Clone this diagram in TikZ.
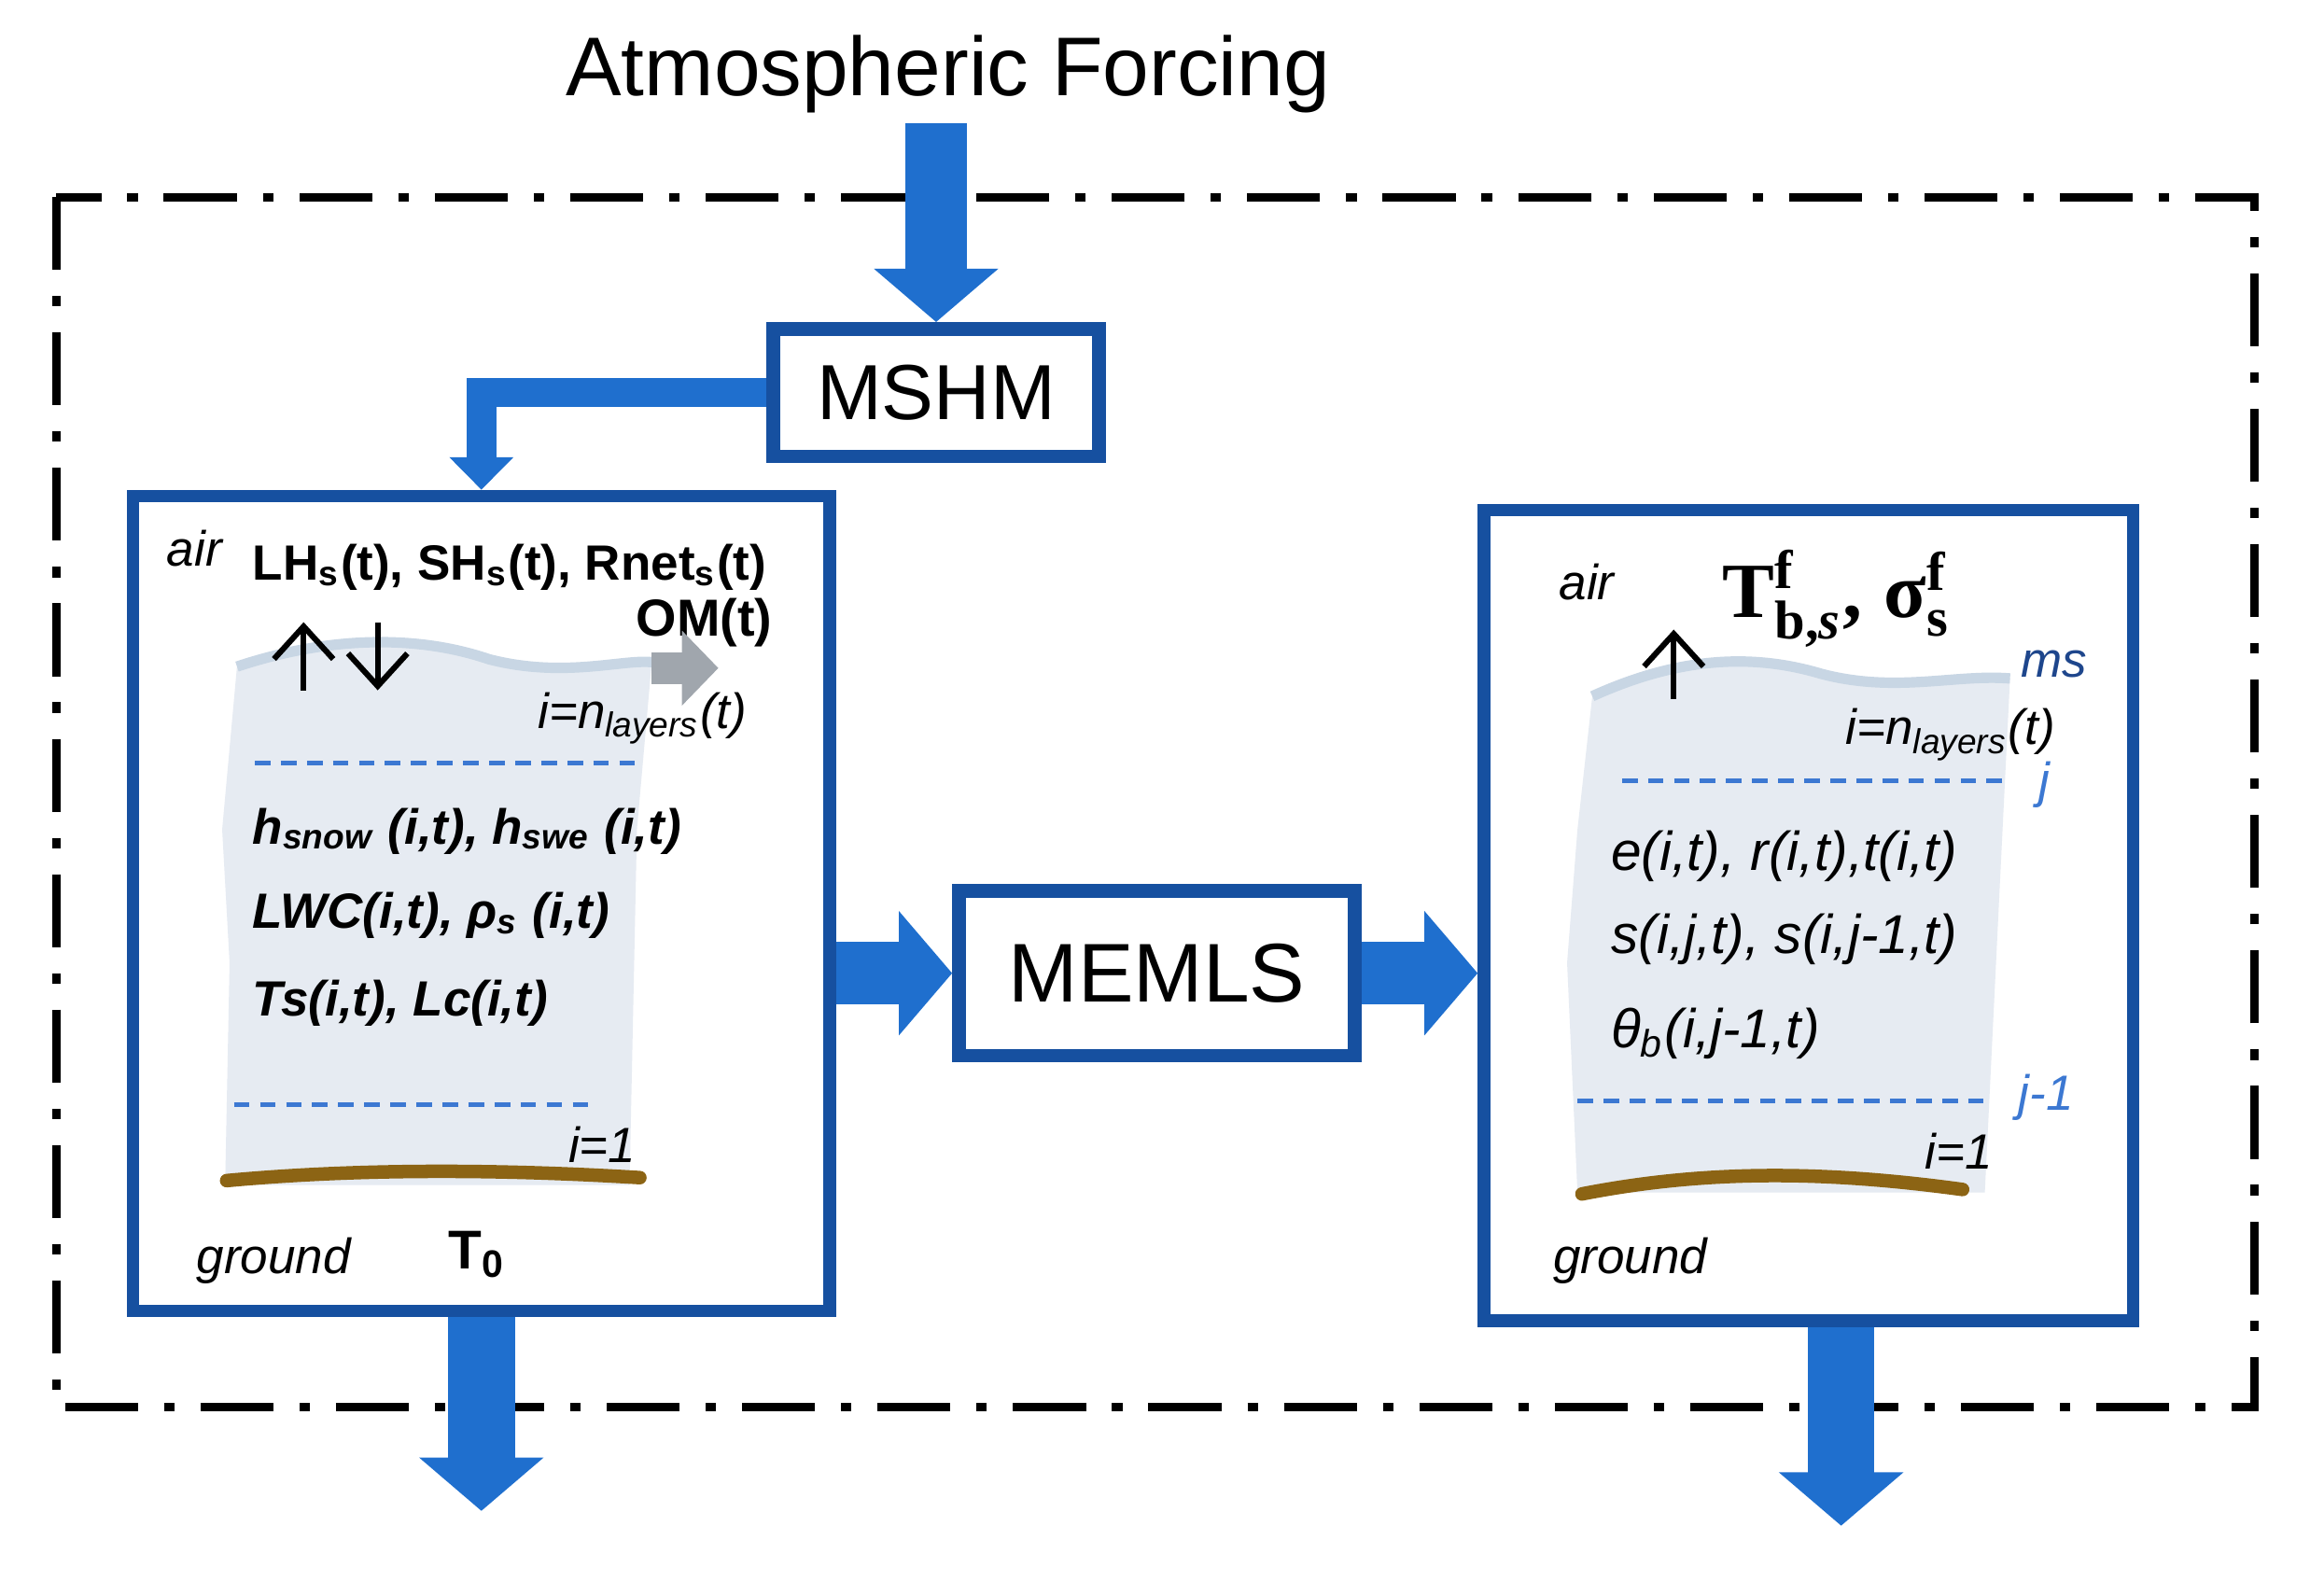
\documentclass[tikz,border=0pt]{standalone}
\usepackage{amsmath}
\usepackage{fontspec}
\setmainfont{Liberation Sans}
\newfontfamily\serifbf{Liberation Serif}
\usetikzlibrary{arrows.meta,positioning}
\definecolor{arrowblue}{RGB}{31,111,206}
\definecolor{boxblue}{RGB}{22,80,160}
\definecolor{snowfill}{RGB}{230,235,242}
\definecolor{snowedge}{RGB}{200,214,228}
\definecolor{groundbrown}{RGB}{140,100,20}
\definecolor{layerblue}{RGB}{60,120,210}
\definecolor{msblue}{RGB}{30,70,140}
\newcommand{\sbf}[1]{\text{\serifbf\bfseries #1}}
\tikzset{
  panel/.style={draw=boxblue, line width=2.4pt, fill=white, inner sep=0pt},
  model/.style={draw=boxblue, line width=2.6pt, fill=white},
  flow/.style={draw=arrowblue, line width=0.42cm,
    -{Triangle[width=0.82cm,length=0.36cm]}},
  label/.style={inner sep=0pt, font=\fontsize{9.5}{11}\selectfont\bfseries\itshape},
  small/.style={inner sep=0pt, font=\fontsize{9.5}{11}\selectfont\itshape},
  layer/.style={draw=layerblue, densely dashed, line width=0.9pt},
  ground/.style={draw=groundbrown, line width=2.6pt, line cap=round},
  thin arrow/.style={line width=1.1pt, -{Straight Barb[length=2.2mm,width=4mm]}},
}
\begin{document}
\begin{tikzpicture}[x=0.01cm, y=-0.01cm]
\useasboundingbox (0,0) rectangle (1569,1059);
% frame
\draw[line width=1.6pt, dash pattern=on 14pt off 5pt on 2pt off 5pt] (38,133) rectangle (1522,950);
\node[inner sep=0pt, font=\fontsize{16}{19}\selectfont] (title) at (640,50) {Atmospheric Forcing};
\coordinate (forcing) at (629,83);

% boxes
\node[model, minimum width=2.2cm, minimum height=0.86cm, font=\fontsize{15}{18}\selectfont] (mshm) at (632,265) {MSHM};
\node[panel, minimum width=4.7cm, minimum height=5.5cm] (left) at (325,610) {};
\node[panel, minimum width=4.38cm, minimum height=5.47cm] (right) at (1221,618) {};
\node[model, minimum width=2.67cm, minimum height=1.11cm, font=\fontsize{16}{19}\selectfont] (memls) at (781,657) {MEMLS};

% snow pack left
\fill[snowfill] (160,450) .. controls (220,430) and (280,428) .. (330,445)
  .. controls (380,458) and (420,445) .. (440,447) -- (430,560) -- (425,800)
  -- (152,800) -- (155,650) -- (150,560) -- cycle;
\draw[snowedge, line width=2pt] (160,450) .. controls (220,430) and (280,428) .. (330,445)
  .. controls (380,458) and (420,445) .. (440,447);
\draw[ground] (153,797) .. controls (250,788) and (350,790) .. (432,795);
\draw[layer] (172,515) -- (430,515);
\draw[layer] (158,746) -- (402,746);
% snow pack right
\fill[snowfill] (1075,470) .. controls (1130,445) and (1180,440) .. (1230,455)
  .. controls (1280,468) and (1320,455) .. (1357,458) -- (1350,600) -- (1340,805)
  -- (1065,805) -- (1058,650) -- (1065,560) -- cycle;
\draw[snowedge, line width=2pt] (1075,470) .. controls (1130,445) and (1180,440) .. (1230,455)
  .. controls (1280,468) and (1320,455) .. (1357,458);
\draw[ground] (1068,806) .. controls (1150,790) and (1230,790) .. (1325,803);
\draw[layer] (1095,527) -- (1355,527);
\draw[layer] (1065,743) -- (1345,743);

% left labels
\node[small, anchor=west] (airL) at (112,370) {air};
\node[label, font=\fontsize{9.5}{11}\selectfont\bfseries, anchor=west] (flux) at (170,383)
  {LH\textsubscript{s}(t), SH\textsubscript{s}(t), Rnet\textsubscript{s}(t)};
\node[label, font=\fontsize{10}{12}\selectfont\bfseries, anchor=east] (om) at (522,420) {OM(t)};
\coordinate (upL0) at (205,466); \coordinate (upL1) at (205,420);
\coordinate (dnL0) at (255,420); \coordinate (dnL1) at (255,466);
\draw[thin arrow] (upL0) -- (upL1);
\draw[thin arrow] (dnL0) -- (dnL1);
\coordinate (omA) at (440,451); \coordinate (omB) at (485,451);
\draw[draw=gray!55!snowedge, line width=6pt, -{Triangle[width=14pt,length=7pt]}] (omA) -- (omB);
\node[small, anchor=east] (nlL) at (505,485) {i=n\textsubscript{layers}(t)};
\node[label, anchor=west] (hL) at (170,561) {h\textsubscript{snow} (i,t), h\textsubscript{swe} (i,t)};
\node[label, anchor=west] (lwc) at (170,618) {LWC(i,t), ρ\textsubscript{s} (i,t)};
\node[label, anchor=west] (ts) at (170,677) {Ts(i,t), Lc(i,t)};
\node[small, anchor=east] (i1L) at (430,773) {i=1};
\node[small, anchor=west] (gL) at (132,851) {ground};
\node[inner sep=0pt, font=\fontsize{10.5}{13}\selectfont\bfseries] (t0) at (322,847) {T\textsubscript{0}};

% right labels
\node[small, anchor=west] (airR) at (1052,393) {air};
\node[inner sep=0pt, font=\fontsize{15}{17}\selectfont] (tb) at (1240,404)
  {$\sbf{T}^{\sbf{f}}_{\sbf{b,\itshape s}}\sbf{,}\ \sbf{σ}^{\sbf{f}}_{\sbf{s}}$};
\coordinate (upR0) at (1130,472); \coordinate (upR1) at (1130,425);
\draw[thin arrow] (upR0) -- (upR1);
\node[small, text=msblue, anchor=west] (ms) at (1364,448) {ms};
\node[small, anchor=east] (nlR) at (1388,496) {i=n\textsubscript{layers}(t)};
\node[small, text=layerblue, anchor=west] (jR) at (1376,530) {j};
\node[small, font=\fontsize{10.5}{13}\selectfont\itshape, anchor=west] (eR) at (1087,578) {e(i,t), r(i,t),t(i,t)};
\node[small, font=\fontsize{10.5}{13}\selectfont\itshape, anchor=west] (sR) at (1087,634) {s(i,j,t), s(i,j-1,t)};
\node[small, font=\fontsize{10.5}{13}\selectfont\itshape, anchor=west] (thR) at (1087,698) {θ\textsubscript{b}(i,j-1,t)};
\node[small, text=layerblue, anchor=west] (j1R) at (1362,741) {j-1};
\node[small, anchor=east] (i1R) at (1346,777) {i=1};
\node[small, anchor=west] (gR) at (1048,851) {ground};

% flows
\coordinate (outL) at (323,1020);
\coordinate (outR) at (1243,1030);
\draw[flow] (mshm.north |- forcing) -- (mshm.north);
\draw[flow, line width=0.2cm, -{Triangle[width=0.42cm,length=0.22cm]}]
  (mshm.west) -| (left.north);
\draw[flow] (left.east |- memls.west) -- (memls.west);
\draw[flow] (memls.east) -- (right.west |- memls.east);
\draw[flow, line width=0.45cm] (left.south) -- (left.south |- outL);
\draw[flow, line width=0.45cm] (outR |- right.south) -- (outR);
\end{tikzpicture}
\end{document}
